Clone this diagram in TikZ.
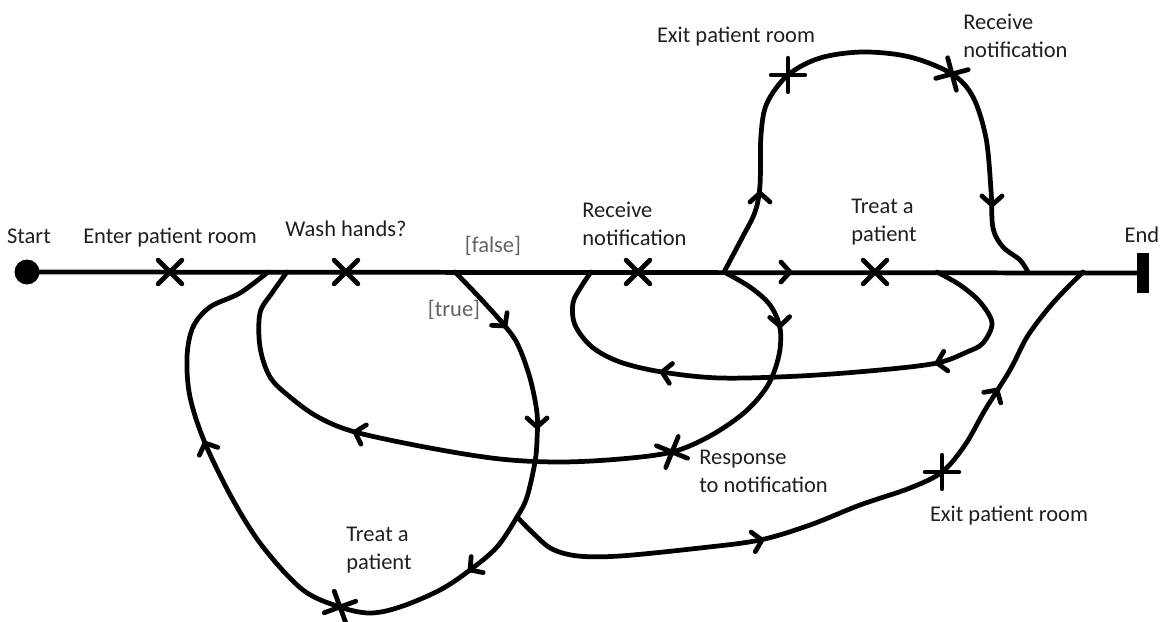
\documentclass[tikz,border=0pt]{standalone}
\usepackage{fontspec}
\setmainfont{Carlito}
\usetikzlibrary{shapes.misc}

\begin{document}
\begin{tikzpicture}[x=0.02cm,y=-0.02cm,line width=2.7pt,line cap=round,line join=round,
  resp/.style={cross out,draw,line width=2.7pt,minimum size=0.38cm,inner sep=0pt},
  lbl/.style={font=\fontsize{12.8}{15.5}\selectfont,text=black!88,align=left,inner sep=0pt},
  cond/.style={lbl,text=black!62},
  chev/.pic={\draw[line width=2.7pt] (-9,10) -- (0,0) -- (-9,-10);}]
\useasboundingbox (0,0) rectangle (1167,622);
\node[circle,fill,inner sep=0pt,minimum size=0.5cm] (st) at (27,272) {};
\node[fill,inner sep=0pt,minimum width=0.25cm,minimum height=0.8cm] (en) at (1143,273) {};
\coordinate (j1) at (268,272);
\coordinate (j2) at (287,272);
\coordinate (j3) at (455,272);
\coordinate (j4) at (591,272);
\coordinate (j5) at (724,272);
\coordinate (j6) at (937,272);
\coordinate (j7) at (1028,272);
\coordinate (j8) at (1083,272);
\coordinate (j9) at (517,517);
\node[resp] (r1) at (170,272) {};
\node[resp] (r2) at (346,272) {};
\node[resp] (r3) at (638,272) {};
\node[resp] (r4) at (875,272) {};
\node[resp,rotate=45] (r5) at (788,75) {};
\node[resp,rotate=-30] (r6) at (952,74) {};
\node[resp,rotate=23] (r7) at (672,452) {};
\node[resp,rotate=45] (r8) at (942,472) {};
\node[resp,rotate=-25] (r9) at (340,607) {};
\draw (st.center) -- (en.center);
\draw plot[smooth,tension=0.55] coordinates {(j5) (742,238) (755,212) (760,185) (761,135) (767,103) (r5.center) (820,58) (863,52) (910,57) (r6.center) (973,97) (986,138) (991,190) (993,228) (1003,247) (1020,260) (j7)};
\draw plot[smooth,tension=0.55] coordinates {(j5) (750,287) (770,305) (780,328) (779,355) (768,385) (745,412) (710,436) (r7.center) (620,459) (560,462) (500,459) (430,448) (355,432) (318,417) (290,397) (270,377) (260,347) (260,313) (272,293) (j2)};
\draw plot[smooth,tension=0.55] coordinates {(j6) (960,285) (980,302) (992,323) (983,343) (967,352) (937,363) (880,370) (800,376) (720,378) (662,372) (620,362) (592,347) (575,325) (573,303) (581,287) (j4)};
\draw plot[smooth,tension=0.55] coordinates {(j3) (480,298) (505,326) (518,345) (530,378) (537,413) (537,440) (535,462) (527,497) (j9) (497,547) (470,570) (440,590) (400,607) (370,613) (r9.center) (303,590) (263,547) (233,500) (205,443) (190,397) (187,357) (193,327) (210,307) (240,293) (j1)};
\draw plot[smooth,tension=0.55] coordinates {(j9) (535,535) (552,549) (578,556) (620,556) (700,548) (760,540) (810,525) (860,505) (910,488) (r8.center) (965,445) (985,410) (1010,370) (1027,337) (1047,310) (1065,290) (j8)};
\pic at (790,272) {chev};
\pic[rotate=90] at (760,193) {chev};
\pic[rotate=-90] at (992,205) {chev};
\pic[rotate=-88] at (780,326) {chev};
\pic[rotate=164] at (355,432) {chev};
\pic[rotate=192] at (937,363) {chev};
\pic[rotate=171] at (662,372) {chev};
\pic[rotate=-51] at (505,326) {chev};
\pic[rotate=-90] at (537,427) {chev};
\pic[rotate=-143] at (470,570) {chev};
\pic[rotate=113] at (205,443) {chev};
\pic[rotate=12] at (762,540) {chev};
\pic[rotate=58] at (997,390) {chev};
\node[lbl,anchor=base] (tStart) at (29,243) {Start};
\node[lbl,anchor=base] (tEnter) at (170,243) {Enter patient room};
\node[lbl,anchor=base] (tWash) at (346,236) {Wash hands?};
\node[cond,anchor=base] (tFalse) at (493,252) {[false]};
\node[cond,anchor=base] (tTrue) at (454,316) {[true]};
\node[lbl,anchor=base] (tEnd) at (1142,242) {End};
\node[lbl,anchor=base] (tExit) at (736,42) {Exit patient room};
\node[lbl,anchor=base] (tExit2) at (1009,521) {Exit patient room};
\node[lbl,anchor=north west] (tRecv) at (580,200) {Receive\\notification};
\node[lbl,anchor=north west] (tTreat) at (849,197) {Treat a\\patient};
\node[lbl,anchor=north west] (tRecv2) at (961,12) {Receive\\notification};
\node[lbl,anchor=north west] (tResp) at (697,448) {Response\\to notification};
\node[lbl,anchor=north west] (tTreat2) at (344,525) {Treat a\\patient};
\end{tikzpicture}
\end{document}
